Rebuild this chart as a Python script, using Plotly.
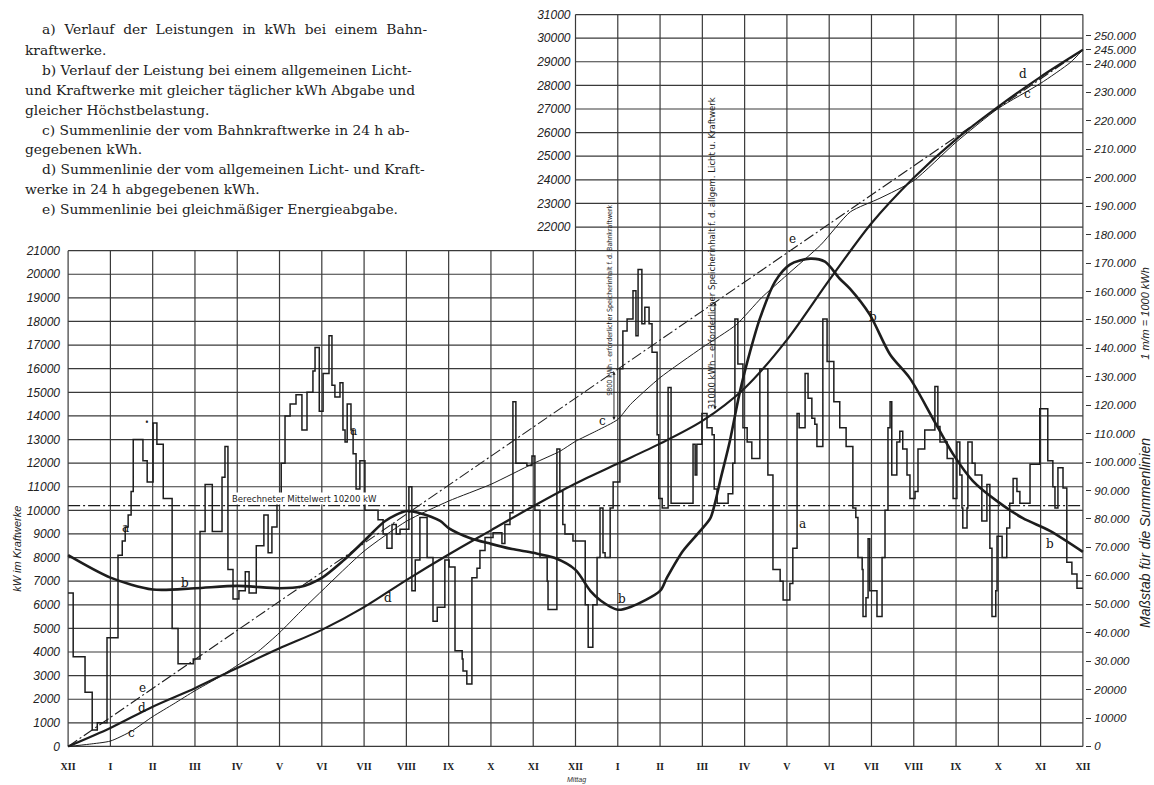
import plotly.graph_objects as go

# ---------------------------------------------------------------------------
# Data
# ---------------------------------------------------------------------------
hour_labels = ["XII", "I", "II", "III", "IV", "V", "VI", "VII", "VIII", "IX", "X", "XI",
               "XII", "I", "II", "III", "IV", "V", "VI", "VII", "VIII", "IX", "X", "XI", "XII"]

# a) Bahnkraftwerk: load steps (start hour of each step, kW)
a_hours = [0.00, 0.12, 0.40, 0.57, 0.69, 0.92, 1.18, 1.28, 1.35, 1.42, 1.49, 1.54, 1.77, 1.87,
           2.01, 2.10, 2.25, 2.46, 2.60, 2.96, 3.12, 3.24, 3.41, 3.64, 3.71, 3.78, 3.90, 4.04,
           4.19, 4.28, 4.45, 4.63, 4.73, 4.82, 4.94, 5.04, 5.13, 5.25, 5.39, 5.53, 5.65, 5.79,
           5.84, 5.94, 6.03, 6.17, 6.24, 6.31, 6.43, 6.50, 6.55, 6.60, 6.69, 6.74, 6.81, 6.90,
           7.02, 7.33, 7.45, 7.54, 7.66, 7.76, 7.85, 8.06, 8.13, 8.21, 8.32, 8.49, 8.63, 8.73,
           8.91, 9.01, 9.15, 9.32, 9.34, 9.43, 9.55, 9.67, 9.74, 9.86, 10.05, 10.26, 10.33,
           10.45, 10.52, 10.59, 10.85, 10.97, 11.04, 11.16, 11.33, 11.35, 11.56, 11.63, 11.70,
           11.75, 11.94, 12.23, 12.30, 12.41, 12.51, 12.58, 12.65, 12.70, 12.82, 12.89, 13.05,
           13.12, 13.22, 13.36, 13.43, 13.48, 13.57, 13.64, 13.74, 13.81, 13.93, 13.97, 14.05,
           14.19, 14.26, 14.78, 14.83, 14.87, 14.99, 15.11, 15.23, 15.28, 15.35, 15.61, 15.72,
           15.77, 15.84, 15.96, 16.06, 16.17, 16.36, 16.55, 16.67, 16.84, 16.91, 17.07, 17.14,
           17.24, 17.29, 17.43, 17.50, 17.59, 17.66, 17.71, 17.85, 17.95, 18.11, 18.25, 18.40,
           18.56, 18.63, 18.68, 18.78, 18.80, 18.87, 18.92, 18.96, 19.13, 19.25, 19.32, 19.39,
           19.44, 19.48, 19.60, 19.67, 19.74, 19.84, 19.91, 20.03, 20.10, 20.26, 20.50, 20.57,
           20.62, 20.79, 20.93, 21.02, 21.09, 21.14, 21.16, 21.26, 21.28, 21.38, 21.45, 21.61,
           21.73, 21.80, 21.85, 21.94, 21.97, 22.09, 22.20, 22.27, 22.35, 22.44, 22.51, 22.75,
           22.98, 23.17, 23.29, 23.34, 23.41, 23.53, 23.62, 23.74, 23.86, 24.00]
a_kw = [6500, 3800, 2300, 700, 1000, 4600, 8100, 8700, 9300, 9800, 10800, 13000, 12100, 11200,
        13700, 12800, 10500, 5000, 3500, 3700, 9100, 11100, 9100, 11400, 12700, 7500, 6250, 6600,
        7400, 6500, 8500, 9800, 8200, 9300, 10300, 12000, 14000, 14500, 14900, 13400, 15000, 15900,
        16900, 14200, 15800, 17400, 15300, 14800, 15400, 13400, 12900, 14500, 13400, 12400, 10900, 12100,
        10000, 9600, 9000, 8400, 9400, 9000, 9200, 11000, 6600, 7900, 9700, 8000, 5300, 5900,
        7900, 7600, 4050, 3700, 3200, 2650, 7150, 7550, 8300, 8850, 9050, 8600, 9400,
        9900, 14600, 12000, 11900, 12300, 10000, 8000, 7000, 5800, 12600, 10800, 9400,
        9000, 8700, 6000, 4200, 6000, 8000, 10100, 8200, 8000, 10100, 11200, 16000,
        17600, 18100, 19300, 17400, 20200, 17900, 18600, 17900, 16700, 13200, 10500, 10100,
        15200, 10300, 12800, 11500, 12800, 14100, 13500, 13200, 10900, 10300, 10700, 12000,
        18100, 16200, 13500, 12900, 12200, 16000, 11500, 7500, 7000, 6200, 6900, 8400,
        14100, 13500, 15800, 14750, 13900, 13650, 12700, 18100, 16300, 14600, 13500, 12700,
        10100, 9700, 8000, 7500, 5500, 6300, 8800, 6600, 5500, 8000, 10000, 13500,
        14600, 11500, 12900, 13350, 12600, 11500, 10500, 10800, 12600, 13400, 15250, 13550,
        12900, 12200, 10500, 12900, 11500, 10100, 9250, 10100, 12900, 12000, 11500, 9550,
        11100, 8400, 5500, 6600, 8900, 8000, 9250, 10300, 11350, 10800, 10300, 11950,
        14300, 12100, 11000, 10100, 11800, 10950, 7800, 7300, 6700, 6700]

# b) allgemeines Licht- und Kraftwerk (kW)
b_hours = [0, 1, 2, 3, 4, 5, 5.5, 6, 6.5, 7, 7.5, 8, 8.3, 8.8, 9, 9.5, 10, 10.5, 11, 11.5,
           12, 12.35, 12.6, 13, 13.3, 14, 14.16, 14.54, 14.95, 15.19, 15.31, 15.42, 15.65,
           15.89, 16.13, 16.36, 16.72, 17.07, 17.55, 17.9, 18.25, 18.49, 18.96, 19.44, 19.91,
           20.45, 20.93, 21.4, 21.97, 22.58, 23.22, 24]
b_kw = [8100, 7150, 6650, 6700, 6800, 6700, 6760, 7140, 7860, 8700, 9550, 9970, 9890, 9550,
        9250, 8830, 8580, 8360, 8200, 7990, 7480, 6590, 6170, 5790, 5910, 6590, 7140, 8280,
        9130, 9670, 10390, 11240, 12930, 15040, 16730, 18120, 19690, 20410, 20660, 20530,
        19810, 19390, 18290, 16600, 15590, 13900, 12380, 11240, 10390, 9670, 9130, 8240]

# c) Summenlinie Bahnkraftwerk (kWh)
c_hours = [0, 0.5, 1, 1.5, 2, 2.5, 3, 3.5, 4, 4.5, 5, 5.5, 6, 7, 8, 9, 10, 11, 11.63, 12,
           12.5, 13, 13.3, 14, 15, 15.8, 16.4, 17, 17.8, 18.5, 19.2, 20, 21, 22, 23, 23.7, 24]
c_kwh = [0, 800, 1900, 5400, 10500, 15000, 19600, 23800, 28500, 33500, 40000, 47500, 54700,
         68700, 79200, 86300, 92200, 99500, 103800, 107300, 111000, 115000, 120300, 129700,
         140300, 148300, 157800, 165800, 176400, 188000, 192800, 199000, 212500, 224400,
         233200, 240500, 245000]

# d) Summenlinie allgemeines Licht- und Kraftwerk (kWh)
d_hours = list(range(25))
d_kwh = [0, 6500, 14000, 20500, 27600, 34500, 41000, 49000, 58500, 67500, 76000, 84500,
         92500, 99500, 106500, 114500, 126000, 143000, 164000, 184000, 200000, 213500,
         225000, 235500, 245000]

# e) Summenlinie bei gleichmäßiger Energieabgabe (kWh)
e_hours = [0, 24]
e_kwh = [0, 245000]

mean_kw = 10200

# Speicherinhalt markers: hour, kWh at the upper and lower curve, text
store_bahn = (12.91, 131800, 114300, "9800 kWh – erforderlicher Speicherinhalt f. d. Bahnkraftwerk")
store_licht = (15.30, 156200, 118000,
               "31000 kWh – erforderlicher Speicherinhalt f. d. allgem. Licht u. Kraftwerk")

left_ticks = list(range(0, 22000, 1000))
upper_ticks = list(range(22000, 32000, 1000))
right_ticks = list(range(0, 260000, 10000)) + [245000]

# ---------------------------------------------------------------------------
# Scales
# ---------------------------------------------------------------------------
X_RANGE = [-0.05, 24.05]
Y_RANGE = [-150, 31150]
KWH_PER_KW = 257400 / 31000          # Summenlinien-Maßstab relativ zur kW-Teilung
Y2_RANGE = [Y_RANGE[0] * KWH_PER_KW, Y_RANGE[1] * KWH_PER_KW]

W, H = 1154, 785
L, R, T, B = 66, 69, 8, 35
PW, PH = W - L - R, H - T - B


def px_x(px):
    return (px - L) / PW


def px_y(py):
    return (T + PH - py) / PH


def italic(s):
    return "<i>" + s + "</i>"


INK = "#1d1d1d"
GRID = "#3a3a3a"

fig = go.Figure()

# a) step line
fig.add_trace(go.Scatter(x=a_hours + [24.0], y=a_kw + [a_kw[-1]], mode="lines",
                         line=dict(shape="hv", color=INK, width=1.5), hoverinfo="skip"))
# b) smooth curve
fig.add_trace(go.Scatter(x=b_hours, y=b_kw, mode="lines",
                         line=dict(shape="spline", smoothing=0.8, color=INK, width=2.6),
                         hoverinfo="skip"))
# mean line
fig.add_trace(go.Scatter(x=[0, 24], y=[mean_kw, mean_kw], mode="lines",
                         line=dict(color=INK, width=1.3, dash="12px,3px,2px,3px"),
                         hoverinfo="skip"))
# c, d, e on the kWh scale
fig.add_trace(go.Scatter(x=c_hours, y=c_kwh, yaxis="y2", mode="lines",
                         line=dict(shape="spline", smoothing=0.6, color=INK, width=1.0),
                         hoverinfo="skip"))
fig.add_trace(go.Scatter(x=d_hours, y=d_kwh, yaxis="y2", mode="lines",
                         line=dict(shape="spline", smoothing=0.8, color=INK, width=2.2),
                         hoverinfo="skip"))
fig.add_trace(go.Scatter(x=e_hours, y=e_kwh, yaxis="y2", mode="lines",
                         line=dict(color=INK, width=1.1, dash="11px,3px,2px,3px"),
                         hoverinfo="skip"))

# ---------------------------------------------------------------------------
# Grid: full width up to 21000 kW, right half up to 31000 kW
# ---------------------------------------------------------------------------
shapes = []
for h in range(25):
    top = 31000 if h >= 12 else 21000
    shapes.append(dict(type="line", xref="x", yref="y", x0=h, x1=h, y0=0, y1=top,
                       line=dict(color=GRID, width=1.2), layer="below"))
for v in left_ticks:
    shapes.append(dict(type="line", xref="x", yref="y", x0=0, x1=24, y0=v, y1=v,
                       line=dict(color=GRID, width=1.2), layer="below"))
for v in upper_ticks:
    shapes.append(dict(type="line", xref="x", yref="y", x0=12, x1=24, y0=v, y1=v,
                       line=dict(color=GRID, width=1.2), layer="below"))

# ---------------------------------------------------------------------------
# Annotations
# ---------------------------------------------------------------------------
ann = []
SP = " &nbsp;"
legend_lines = [
    (40, 26, SP.join("a) Verlauf der Leistungen in kWh bei einem Bahn-".split(" "))),
    (23, 47, "kraftwerke."),
    (40, 67, "b) Verlauf der Leistung bei einem allgemeinen Licht-"),
    (23, 87, "und Kraftwerke mit gleicher täglicher kWh Abgabe und"),
    (23, 107, "gleicher Höchstbelastung."),
    (40, 127, "c) Summenlinie der vom Bahnkraftwerke in 24 h ab-"),
    (23, 147, "gegebenen kWh."),
    (40, 167, "d) Summenlinie der vom allgemeinen Licht- und Kraft-"),
    (23, 187, "werke in 24 h abgegebenen kWh."),
    (40, 207, "e) Summenlinie bei gleichmäßiger Energieabgabe."),
]
for x0, y0, txt in legend_lines:
    ann.append(dict(xref="paper", yref="paper", x=px_x(x0), y=px_y(y0), text=txt,
                    showarrow=False, xanchor="left", yanchor="middle",
                    font=dict(family="DejaVu Serif", size=13.8, color="#222")))

curve_labels = [
    ("a", 1.35, 9250), ("a", 6.76, 13350), ("a", 17.36, 9420),
    ("b", 2.77, 6930), ("b", 13.10, 6250), ("b", 19.03, 18210), ("b", 23.22, 8580),
    ("c", 1.51, 550), ("c", 12.65, 13770), ("c", 22.68, 27630),
    ("d", 1.75, 1650), ("d", 7.57, 6290), ("d", 22.58, 28470),
    ("e", 1.75, 2490), ("e", 17.14, 21500),
]
for t, hx, ky in curve_labels:
    ann.append(dict(xref="x", yref="y", x=hx, y=ky, text=t, showarrow=False,
                    xanchor="center", yanchor="middle",
                    font=dict(family="DejaVu Serif", size=12, color="#111")))
ann.append(dict(xref="x", yref="y", x=1.87, y=13730, text="•", showarrow=False,
                xanchor="center", yanchor="middle", font=dict(size=10, color=INK)))

# mean value label
ann.append(dict(xref="x", yref="y", x=5.6, y=10500, text="Berechneter Mittelwert 10200 kW",
                showarrow=False, bgcolor="white", borderpad=0,
                xanchor="center", yanchor="middle",
                font=dict(family="DejaVu Sans Condensed, DejaVu Sans", size=9.5, color=INK)))

# storage arrows and texts
for (hx, top, bottom, txt), tx, ty, fs in [(store_bahn, 12.82, 18880, 7),
                                            (store_licht, 15.22, 20870, 9.5)]:
    ann.append(dict(xref="x", yref="y2", axref="x", ayref="y2", x=hx, y=top, ax=hx, ay=bottom,
                    text="", showarrow=True, arrowhead=2, arrowside="end+start",
                    arrowsize=0.7, arrowwidth=0.9, arrowcolor=INK))
    ann.append(dict(xref="x", yref="y", x=tx, y=ty, text=txt, textangle=-90, showarrow=False,
                    xanchor="center", yanchor="middle",
                    font=dict(family="DejaVu Sans Condensed, DejaVu Sans", size=fs, color=INK)))

# axis titles
ann.append(dict(xref="paper", yref="paper", x=px_x(17), y=px_y(548),
                text=italic("kW im Kraftwerke"),
                textangle=-90, showarrow=False, xanchor="center", yanchor="middle",
                font=dict(family="Liberation Sans", size=11, color="#222")))
ann.append(dict(xref="paper", yref="paper", x=px_x(1145), y=px_y(532),
                text=italic("Maßstab für die Summenlinien"), textangle=-90, showarrow=False,
                xanchor="center", yanchor="middle",
                font=dict(family="Liberation Sans", size=14, color="#222")))
ann.append(dict(xref="paper", yref="paper", x=px_x(1145), y=px_y(312),
                text=italic("1 m/m = 1000 kWh"), textangle=-90, showarrow=False,
                xanchor="center", yanchor="middle",
                font=dict(family="Liberation Sans", size=11, color="#222")))
ann.append(dict(xref="paper", yref="paper", x=px_x(576), y=px_y(780), text=italic("Mittag"),
                showarrow=False, xanchor="center", yanchor="middle",
                font=dict(family="Liberation Sans", size=7, color="#333")))

tick_font = dict(family="Liberation Sans", size=12, color="#222")
right_font = dict(family="Liberation Sans", size=11.5, color="#222")

fig.update_layout(
    width=W, height=H,
    margin=dict(l=L, r=R, t=T, b=B, pad=0),
    paper_bgcolor="white", plot_bgcolor="white",
    showlegend=False,
    shapes=shapes,
    annotations=ann,
    xaxis=dict(range=X_RANGE, tickvals=list(range(25)), ticktext=hour_labels,
               showgrid=False, zeroline=False, showline=False, ticks="",
               ticklabelstandoff=9,
               tickfont=dict(family="Liberation Serif", size=10, weight="bold", color="#222")),
    yaxis=dict(range=Y_RANGE, tickvals=left_ticks,
               ticktext=[italic(str(v)) for v in left_ticks],
               showgrid=False, zeroline=False, showline=False, ticks="",
               ticklabelstandoff=5, tickfont=tick_font),
    yaxis3=dict(range=Y_RANGE, overlaying="y", anchor="free", position=0.5, side="left",
                tickvals=upper_ticks, ticktext=[italic(str(v)) for v in upper_ticks],
                showgrid=False, zeroline=False, showline=False, ticks="",
                ticklabelstandoff=5, tickfont=tick_font),
    yaxis2=dict(range=Y2_RANGE, overlaying="y", side="right",
                tickvals=right_ticks,
                ticktext=[italic("{:,}".format(v).replace(",", ".") if v >= 30000 else str(v))
                          for v in right_ticks],
                showgrid=False, zeroline=False, showline=False,
                ticks="outside", ticklen=5, tickwidth=1, tickcolor="#333",
                ticklabelstandoff=1, tickfont=right_font),
)

# keep the upper tick axis visible by giving it a (hidden) trace
fig.add_trace(go.Scatter(x=[12], y=[22000], yaxis="y3", mode="markers",
                         marker=dict(opacity=0), hoverinfo="skip"))

fig.write_html("out.html", config={"displayModeBar": False})
